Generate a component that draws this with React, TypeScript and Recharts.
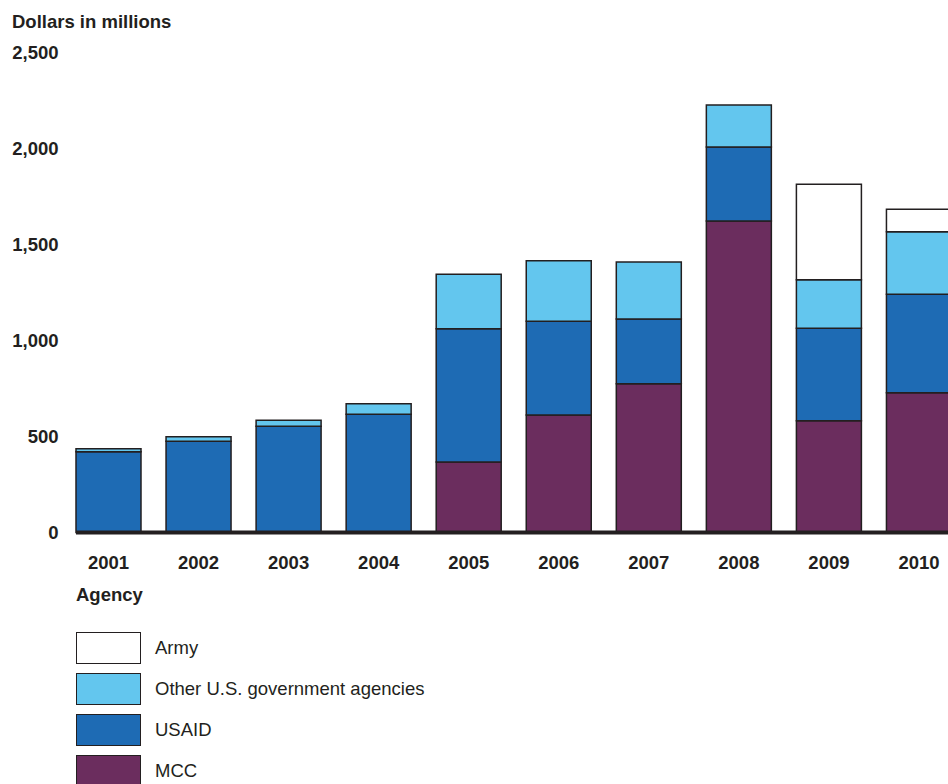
import React from 'react';
import { BarChart, Bar, XAxis, YAxis, ReferenceLine } from 'recharts';

// Valeurs (millions de dollars)
const years = ['2001', '2002', '2003', '2004', '2005', '2006', '2007', '2008', '2009', '2010'];
const mcc = [0, 0, 0, 0, 367, 612, 775, 1622, 582, 728];
const usaid = [421, 475, 553, 616, 694, 488, 337, 386, 482, 513];
const otherAgencies = [15, 24, 31, 55, 284, 316, 297, 219, 253, 326];
const army = [0, 0, 0, 0, 0, 0, 0, 0, 497, 116];
const yTicks = [0, 500, 1000, 1500, 2000, 2500];

const INK = '#231f20';
const FONT = '"Liberation Sans", Arial, Helvetica, sans-serif';

const COLORS = {
  army: '#ffffff',
  other: '#63c6ee',
  usaid: '#1e6bb4',
  mcc: '#6b2d5e',
} as const;

const legendItems = [
  { label: 'Army', color: COLORS.army },
  { label: 'Other U.S. government agencies', color: COLORS.other },
  { label: 'USAID', color: COLORS.usaid },
  { label: 'MCC', color: COLORS.mcc },
];

const data = years.map((year, i) => ({
  year,
  mcc: mcc[i],
  usaid: usaid[i],
  other: otherAgencies[i],
  army: army[i],
}));

const fmt = (v: number) => v.toLocaleString('en-US');

export default function App() {
  const tickStyle = { fontSize: 18.5, fontWeight: 700, fill: INK, fontFamily: FONT };

  return (
    <div
      style={{
        position: 'absolute',
        left: 0,
        top: 0,
        width: 948,
        height: 784,
        overflow: 'hidden',
        background: '#fff',
        fontFamily: FONT,
        color: INK,
      }}
    >
      <div
        style={{
          position: 'absolute',
          left: 12,
          top: 12,
          fontSize: 18.5,
          lineHeight: '20px',
          fontWeight: 700,
          whiteSpace: 'nowrap',
        }}
      >
        Dollars in millions
      </div>

      <div style={{ position: 'absolute', left: 0, top: 0 }}>
        <BarChart
          width={964}
          height={600}
          data={data}
          margin={{ top: 52.5, right: 0, left: 0, bottom: 0 }}
          barCategoryGap={12.5}
        >
          <XAxis
            dataKey="year"
            axisLine={false}
            tickLine={false}
            tickSize={0}
            tickMargin={23}
            tick={tickStyle}
            interval={0}
            height={67.5}
          />
          <YAxis
            domain={[0, 2500]}
            ticks={yTicks}
            tickFormatter={fmt}
            axisLine={false}
            tickLine={false}
            tickSize={0}
            tickMargin={5}
            width={63.5}
            tick={tickStyle}
            interval={0}
          />
          <Bar dataKey="mcc" stackId="a" fill={COLORS.mcc} stroke={INK} strokeWidth={1.5} isAnimationActive={false} />
          <Bar dataKey="usaid" stackId="a" fill={COLORS.usaid} stroke={INK} strokeWidth={1.5} isAnimationActive={false} />
          <Bar dataKey="other" stackId="a" fill={COLORS.other} stroke={INK} strokeWidth={1.5} isAnimationActive={false} />
          <Bar dataKey="army" stackId="a" fill={COLORS.army} stroke={INK} strokeWidth={1.5} isAnimationActive={false} />
          {/* ligne de base épaisse, démarre au bord gauche de la première barre */}
          <ReferenceLine
            y={0}
            shape={(p: any) => (
              <line x1={p.x1 + 12.5} y1={p.y1} x2={p.x2} y2={p.y2} stroke={INK} strokeWidth={4} />
            )}
          />
        </BarChart>
      </div>

      <div
        style={{
          position: 'absolute',
          left: 76,
          top: 585,
          fontSize: 18.5,
          lineHeight: '20px',
          fontWeight: 700,
        }}
      >
        Agency
      </div>

      {legendItems.map((item, i) => (
        <div
          key={item.label}
          style={{
            position: 'absolute',
            left: 76,
            top: 632 + i * 41,
            height: 32,
            display: 'flex',
            alignItems: 'center',
            whiteSpace: 'nowrap',
          }}
        >
          <span
            style={{
              display: 'inline-block',
              width: 65,
              height: 32,
              boxSizing: 'border-box',
              border: `1.5px solid ${INK}`,
              background: item.color,
            }}
          />
          <span style={{ marginLeft: 14, fontSize: 18.5 }}>{item.label}</span>
        </div>
      ))}
    </div>
  );
}
